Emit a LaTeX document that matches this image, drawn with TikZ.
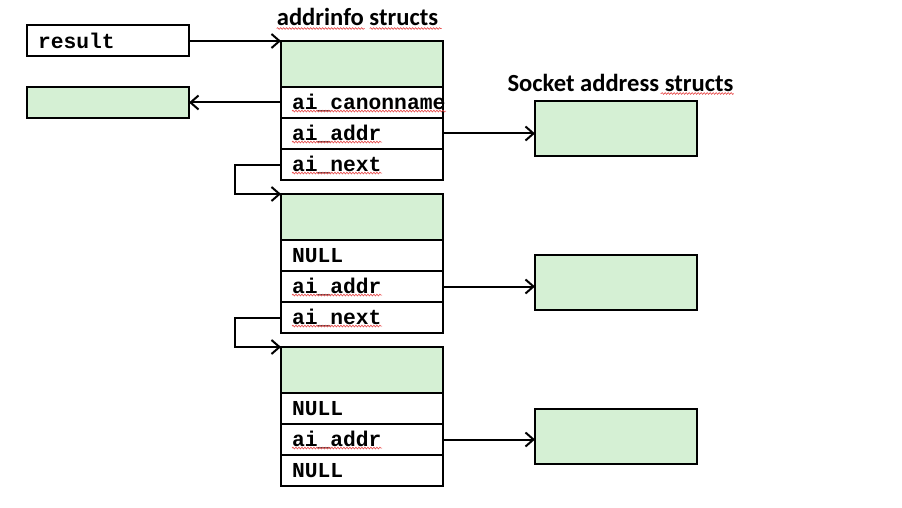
\documentclass[tikz,border=0pt]{standalone}
\usepackage{fontspec}
\setmainfont{Carlito}
\newfontfamily\codefont{Liberation Mono}
\usepackage{tikz}
\usetikzlibrary{arrows.meta,positioning,decorations.pathmorphing}
\definecolor{aigreen}{RGB}{213,240,212}
\definecolor{spellred}{RGB}{230,70,70}
\tikzstyle{ptr} = [line width=2pt,-{Straight Barb[length=8pt,width=14pt]}]
\tikzstyle{cell} = [draw,line width=2pt,rectangle,outer sep=0pt,inner sep=0pt,minimum width=162pt]
\tikzstyle{head} = [cell,fill=aigreen,minimum height=46pt]
\tikzstyle{sock} = [cell,fill=aigreen,minimum height=55pt]
\tikzstyle{field} = [cell,minimum height=31pt,text width=140pt,inner xsep=11pt,align=left,font=\codefont\bfseries\fontsize{21.3}{24}\selectfont]
\tikzstyle{title} = [inner sep=0pt,font=\bfseries\fontsize{24.6}{28}\selectfont]
\tikzstyle{spell} = [draw=spellred,line width=0.6pt,decorate,decoration={snake,amplitude=0.9pt,segment length=3pt}]
\newcommand{\squig}[2]{\draw[spell] ([xshift=11pt,yshift=-2pt]#1.base west) -- ++(#2,0);}

\begin{document}
\begin{tikzpicture}[x=1pt,y=-1pt]
\useasboundingbox (0,0) rectangle (902,508);

% Titles
\node[title,anchor=base] (taddr) at (357.5,25.5) {addrinfo structs};
\node[title,anchor=base] (tsock) at (620.5,91.5) {Socket address structs};
\draw[spell] ([yshift=-3pt]taddr.base west) -- +(88,0);
\draw[spell] ([xshift=93pt,yshift=-3pt]taddr.base west) -- +(72,0);
\draw[spell] ([yshift=-2pt]tsock.base east) -- +(-73,0);

% Left boxes
\node[field,anchor=west] (result) at (27,41) {result};
\node[cell,fill=aigreen,minimum height=31pt,anchor=north west] (canon) at (27,87) {};

% First addrinfo
\node[head,anchor=north west] (s1h) at (281,41) {};
\node[field,below=0pt of s1h] (s1n) {ai\_canonname};
\node[field,below=0pt of s1n] (s1a) {ai\_addr};
\node[field,below=0pt of s1a] (s1x) {ai\_next};
\squig{s1n}{154}
\squig{s1a}{90}
\squig{s1x}{90}

% Second addrinfo
\node[head,anchor=north west] (s2h) at (281,194) {};
\node[field,below=0pt of s2h] (s2n) {NULL};
\node[field,below=0pt of s2n] (s2a) {ai\_addr};
\node[field,below=0pt of s2a] (s2x) {ai\_next};
\squig{s2a}{90}
\squig{s2x}{90}

% Third addrinfo
\node[head,anchor=north west] (s3h) at (281,347) {};
\node[field,below=0pt of s3h] (s3n) {NULL};
\node[field,below=0pt of s3n] (s3a) {ai\_addr};
\node[field,below=0pt of s3a] (s3x) {NULL};
\squig{s3a}{90}

% Socket address boxes
\node[sock,anchor=north west] (sock1) at (535,101) {};
\node[sock,anchor=north west] (sock2) at (535,255) {};
\node[sock,anchor=north west] (sock3) at (535,409) {};

% Pointers
\draw[ptr] (result.east) -- (result.east -| s1h.west);
\draw[ptr] (s1n.west) -- (canon.east);
\draw[ptr] (s1a.east) -- (s1a.east -| sock1.west);
\draw[ptr] (s2a.east) -- (s2a.east -| sock2.west);
\draw[ptr] (s3a.east) -- (s3a.east -| sock3.west);
\draw[ptr] (s1x.west) -- ++(-46,0) |- (s2h.north west);
\draw[ptr] (s2x.west) -- ++(-46,0) |- (s3h.north west);
\end{tikzpicture}
\end{document}
